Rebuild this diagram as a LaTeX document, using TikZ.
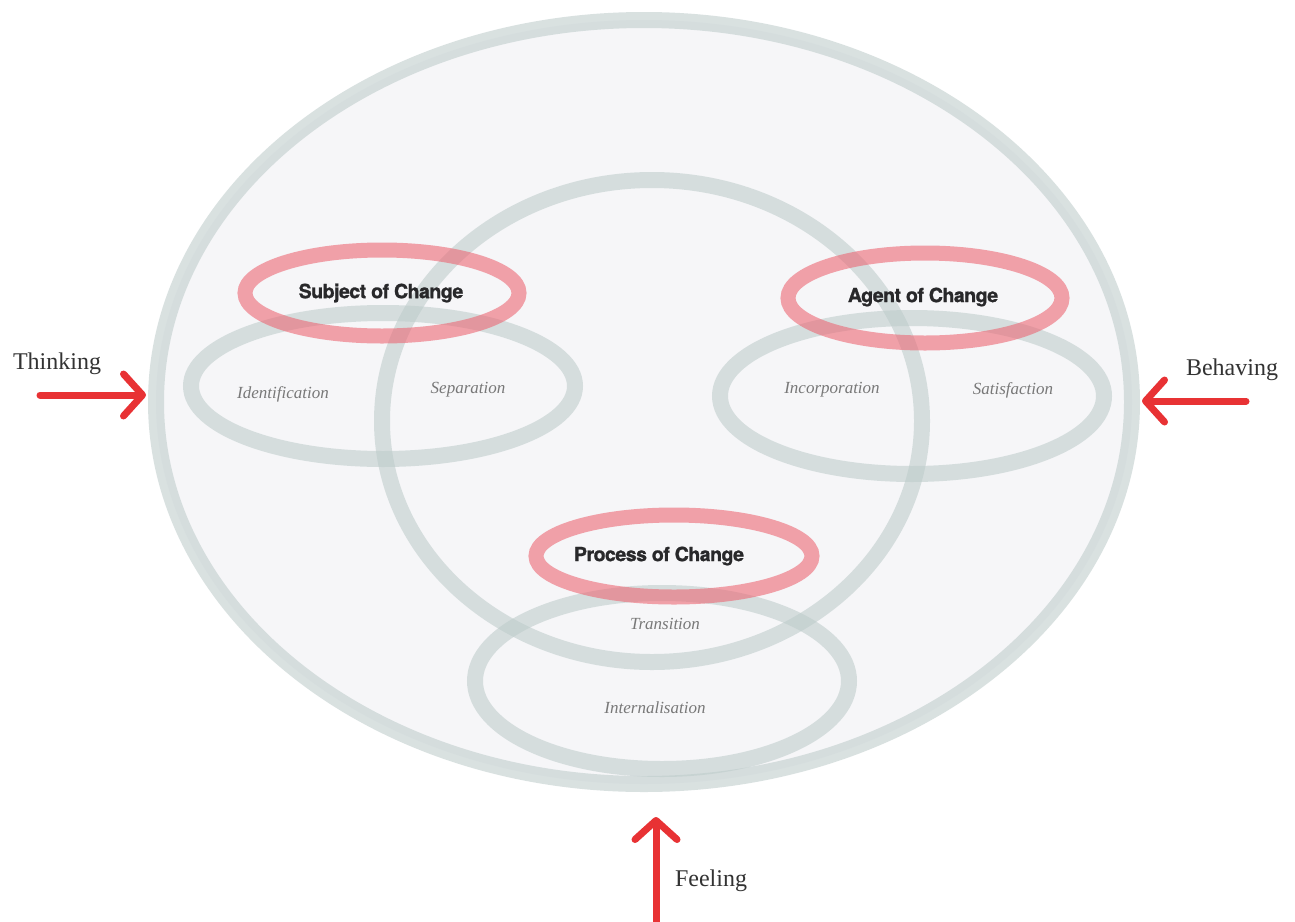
\documentclass[tikz,border=0pt]{standalone}
\usepackage{fontspec}
\setmainfont{Liberation Serif}
\newfontfamily\headfont[LetterSpace=-2.5, BoldFeatures={FakeBold=1.2}]{TeX Gyre Heros}
\usetikzlibrary{shapes.geometric,arrows.meta,calc}
\definecolor{ringgrey}{RGB}{190,204,203}
\definecolor{ringred}{RGB}{236,104,116}
\definecolor{facefill}{RGB}{246,246,248}
\definecolor{arrowred}{RGB}{232,50,52}
\definecolor{labelgrey}{RGB}{120,120,120}
\definecolor{headtext}{RGB}{40,40,42}
\tikzset{
  ring/.style={ellipse, inner sep=0pt, draw=ringgrey, line width=16pt, draw opacity=0.58},
  redring/.style={ellipse, inner sep=0pt, draw=ringred, line width=15pt, draw opacity=0.6},
  headlabel/.style={font=\headfont\bfseries\fontsize{19.5}{21}\selectfont, text=headtext, inner sep=0pt},
  stagelabel/.style={font=\itshape\fontsize{17}{19}\selectfont, text=labelgrey, inner sep=0pt},
  sidelabel/.style={font=\fontsize{24}{26}\selectfont, text=black!80, inner sep=0pt},
  pointer/.style={draw=arrowred, line width=7pt, line cap=round,
    -{Straight Barb[length=19pt, width=42pt, line cap=round, line join=round]}}
}
\begin{document}
\begin{tikzpicture}[x=1pt, y=-1pt]
  \useasboundingbox (0,0) rectangle (1295,921);
  \fill[white] (0,0) rectangle (1295,921);

  % outer face
  \node[ring, fill=facefill, minimum width=976pt, minimum height=764pt] (outer) at (644,402) {};
  % central circle
  \node[ring, minimum width=540pt, minimum height=482pt] (centre) at (652,421) {};
  % stage pairs
  \node[ring, minimum width=384pt, minimum height=146pt] (leftpair) at (383,386) {};
  \node[ring, minimum width=384pt, minimum height=156pt] (rightpair) at (912,396) {};
  \node[ring, minimum width=374pt, minimum height=176pt] (bottompair) at (662,681) {};
  % red headings
  \node[redring, minimum width=274pt, minimum height=86pt] (subjring) at (382,293) {};
  \node[redring, minimum width=274pt, minimum height=90pt] (agentring) at (925,298) {};
  \node[redring, minimum width=276pt, minimum height=82pt] (procring) at (674,556) {};

  % heading texts
  \node[headlabel] (subject) at (381,293) {Subject of Change};
  \node[headlabel] (agent) at (923,297) {Agent of Change};
  \node[headlabel] (process) at (659,556) {Process of Change};

  % stage texts
  \node[stagelabel] (identification) at (283,394) {Identification};
  \node[stagelabel] (separation) at (468,390) {Separation};
  \node[stagelabel] (incorporation) at (832,390) {Incorporation};
  \node[stagelabel] (satisfaction) at (1013,390) {Satisfaction};
  \node[stagelabel] (transition) at (665,624) {Transition};
  \node[stagelabel] (internalisation) at (655,708) {Internalisation};

  % side labels and arrows
  \node[sidelabel] (thinking) at (57,364) {Thinking};
  \node[sidelabel] (behaving) at (1232,370) {Behaving};
  \node[sidelabel] (feeling) at (711,881) {Feeling};

  \coordinate (thinktail) at (40,395);
  \coordinate (behavetail) at (1246,401);
  \coordinate (feeltail) at (656,930);

  \draw[pointer, shorten >=2pt] (thinktail) -- (thinktail -| outer.west);
  \draw[pointer, shorten >=2pt] (behavetail) -- (behavetail -| outer.east);
  \draw[pointer, shorten >=25pt] (feeltail) -- (feeltail |- outer.south);
\end{tikzpicture}
\end{document}
